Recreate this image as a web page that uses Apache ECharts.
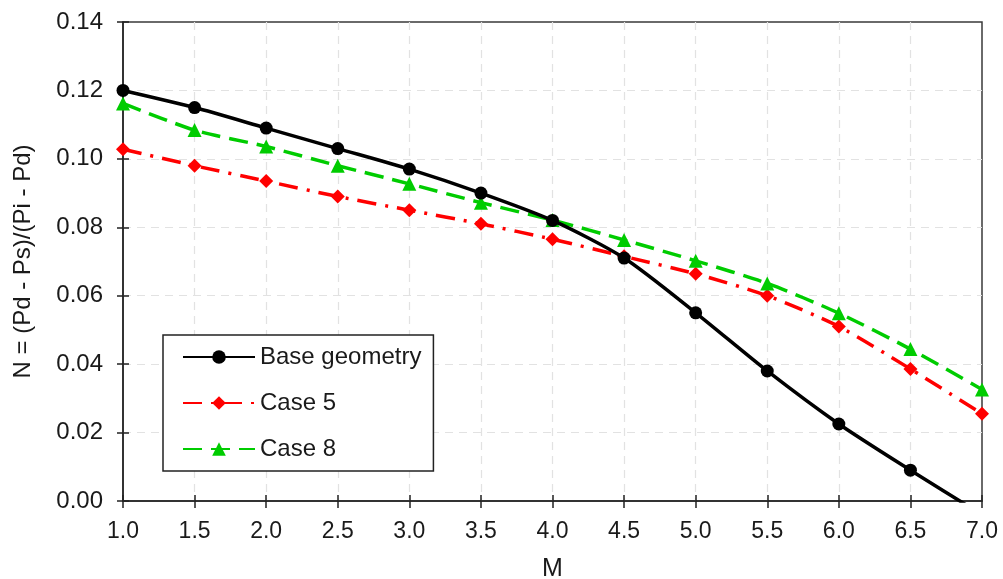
<!DOCTYPE html>
<html>
<head>
<meta charset="utf-8">
<script src="https://cdn.jsdelivr.net/npm/echarts@6/dist/echarts.min.js"></script>
<style>
  html, body { margin: 0; padding: 0; background: #fff; }
  #chart { width: 1003px; height: 579px; }
</style>
</head>
<body>
<div id="chart"></div>
<script>
// Flow parameter M and the pressure ratio N for each geometry
const mValues = [1.0, 1.5, 2.0, 2.5, 3.0, 3.5, 4.0, 4.5, 5.0, 5.5, 6.0, 6.5, 7.0];
const baseGeometry = [0.120, 0.115, 0.109, 0.103, 0.097, 0.090, 0.082, 0.071, 0.055, 0.038, 0.0225, 0.009, -0.004];
const case5 = [0.1028, 0.098, 0.0935, 0.089, 0.085, 0.081, 0.0765, 0.0715, 0.0664, 0.060, 0.051, 0.0386, 0.0255];
const case8 = [0.1162, 0.1084, 0.1036, 0.098, 0.0927, 0.0872, 0.0821, 0.0763, 0.0702, 0.0636, 0.0549, 0.0444, 0.0326];
const seriesNames = ['Base geometry', 'Case 5', 'Case 8'];
const xAxisTitle = 'M';
const yAxisTitle = 'N = (Pd - Ps)/(Pi - Pd)';

const pairs = ys => mValues.map((m, i) => [m, ys[i]]);
const FONT = 'Liberation Sans, Arial, sans-serif';
const TEXT = '#1a1a1a';

const chart = echarts.init(document.getElementById('chart'), null, { renderer: 'canvas' });

const gridLine = {
  show: true, showMinLine: false, showMaxLine: false,
  lineStyle: { color: '#e2e2e2', type: [8, 6], width: 1.2 }
};

chart.setOption({
  animation: false,
  backgroundColor: '#fff',
  grid: {
    left: 123, right: 21, top: 22, bottom: 78,
    outerBoundsMode: 'none', containLabel: false,
    show: true, borderColor: '#3a3a3a', borderWidth: 1.5, backgroundColor: 'transparent'
  },
  legend: {
    orient: 'vertical',
    left: 163, top: 335,
    data: seriesNames,
    itemWidth: 72, itemHeight: 17, itemGap: 22,
    padding: [10, 12, 10, 19],
    borderColor: '#222', borderWidth: 1.5,
    backgroundColor: '#fff',
    textStyle: { fontFamily: FONT, fontSize: 24, lineHeight: 24, color: TEXT }
  },
  xAxis: [{
    type: 'value', min: 1, max: 7, interval: 0.5,
    name: xAxisTitle, nameLocation: 'middle', nameGap: 56,
    nameTextStyle: { fontFamily: FONT, fontSize: 25, color: TEXT },
    axisLine: { show: true, onZero: false, lineStyle: { color: '#222', width: 1.5 } },
    axisTick: { show: true, length: 7, lineStyle: { color: '#222', width: 1.5 } },
    axisLabel: { fontFamily: FONT, fontSize: 23, color: TEXT, margin: 19,
      formatter: v => v.toFixed(1) },
    splitLine: gridLine
  }, {
    // inner half of the crossing tick marks
    type: 'value', min: 1, max: 7, interval: 0.5, position: 'bottom',
    axisLine: { show: false }, axisLabel: { show: false }, splitLine: { show: false },
    axisTick: { show: true, inside: true, length: 6, lineStyle: { color: '#222', width: 1.5 } }
  }],
  yAxis: [{
    type: 'value', min: 0, max: 0.14, interval: 0.02,
    name: yAxisTitle, nameLocation: 'middle', nameGap: 88, nameRotate: 90,
    nameTextStyle: { fontFamily: FONT, fontSize: 24, color: TEXT },
    axisLine: { show: true, onZero: false, lineStyle: { color: '#222', width: 1.5 } },
    axisTick: { show: true, length: 6, lineStyle: { color: '#222', width: 1.5 } },
    axisLabel: { fontFamily: FONT, fontSize: 24, color: TEXT, margin: 20,
      formatter: v => v.toFixed(2) },
    splitLine: gridLine
  }, {
    type: 'value', min: 0, max: 0.14, interval: 0.02, position: 'left',
    axisLine: { show: false }, axisLabel: { show: false }, splitLine: { show: false },
    axisTick: { show: true, inside: true, length: 6, lineStyle: { color: '#222', width: 1.5 } }
  }],
  series: [
    {
      name: seriesNames[0], type: 'line', data: pairs(baseGeometry), smooth: 0.25,
      symbol: 'circle', symbolSize: 13, clip: true, z: 5,
      itemStyle: { color: '#000' },
      lineStyle: { color: '#000', width: 3.5 }
    },
    {
      name: seriesNames[1], type: 'line', data: pairs(case5), smooth: 0.25,
      symbol: 'diamond', symbolSize: 14, clip: true, z: 3,
      itemStyle: { color: '#ff0000' },
      lineStyle: { color: '#ff0000', width: 3.5, type: [19, 9, 3, 9] }
    },
    {
      name: seriesNames[2], type: 'line', data: pairs(case8), smooth: 0.25,
      symbol: 'triangle', symbolSize: 14, clip: true, z: 4,
      itemStyle: { color: '#00cc00' },
      lineStyle: { color: '#00cc00', width: 3.5, type: [19, 9] }
    }
  ]
});
</script>
</body>
</html>
